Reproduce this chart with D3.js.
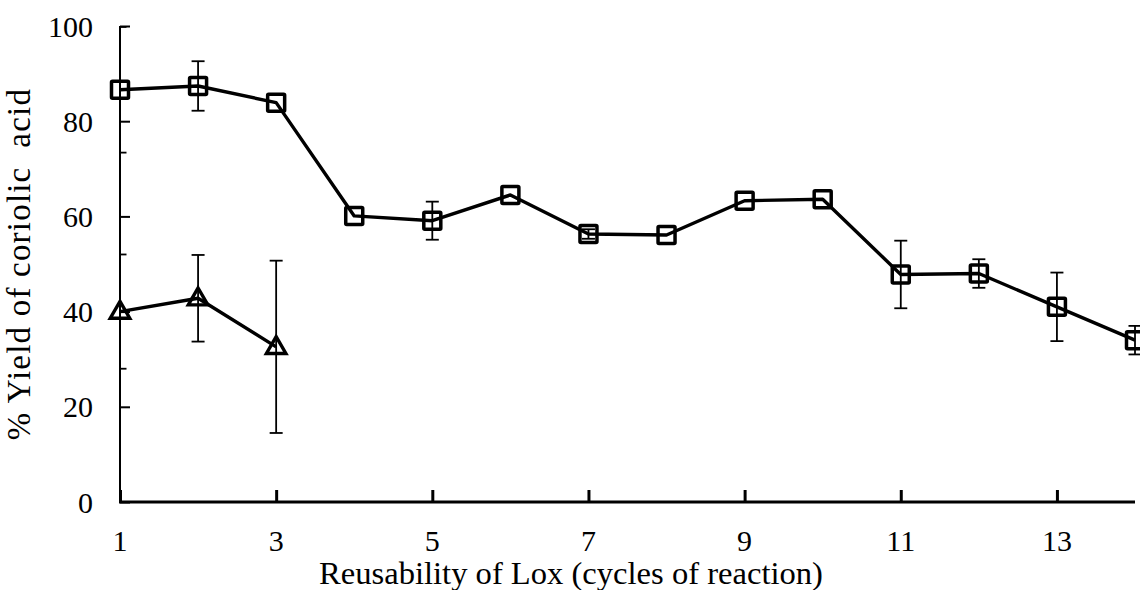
<!DOCTYPE html>
<html>
<head>
<meta charset="utf-8">
<script src="https://cdn.jsdelivr.net/npm/d3@7"></script>
<style>
  html, body { margin: 0; padding: 0; background: #fff; }
  svg { display: block; font-family: "Liberation Serif", "Times New Roman", serif; }
</style>
</head>
<body>
<svg id="chart" width="1140" height="590"></svg>
<script>
// Reuse cycles of the immobilised lipoxygenase
const cycles = [1, 2, 3, 4, 5, 6, 7, 8, 9, 10, 11, 12, 13, 14];

// Series drawn with square markers
const squareYield = [86.6, 87.4, 83.9, 60.1, 59.1, 64.5, 56.3, 56.1, 63.3, 63.6, 47.8, 48.0, 41.0, 34.0];
const squareErr   = [13.2, 5.2, 0, 0, 4.0, 0, 1.0, 0, 0, 0, 7.1, 3.0, 7.2, 3.0];

// Series drawn with triangle markers (first three cycles only)
const triangleCycles = [1, 2, 3];
const triangleYield  = [40.0, 42.8, 32.6];
const triangleErr    = [12.0, 9.1, 18.1];

const xTickValues = [1, 3, 5, 7, 9, 11, 13];
const yTickValues = [0, 20, 40, 60, 80, 100];

const xTitle = "Reusability of Lox (cycles of reaction)";
const yTitle = "% Yield of coriolic  acid";

const svg = d3.select("#chart");
const plotL = 120, plotR = 1135, plotT = 26, plotB = 502;

const x = d3.scaleLinear().domain([1, 14]).range([plotL, plotR]);
const y = d3.scaleLinear().domain([0, 100]).range([plotB, plotT]);

// Clip region for error bars (plot area)
svg.append("defs").append("clipPath").attr("id", "plotClip")
  .append("rect").attr("x", plotL).attr("y", 0).attr("width", plotR - plotL + 20).attr("height", plotB + 1);

// Y axis: ticks pointing into the plot
const yAxis = svg.append("g").attr("transform", `translate(${plotL},0)`)
  .call(d3.axisRight(y).tickValues(yTickValues).tickSize(10).tickFormat(""));
yAxis.select(".domain").attr("d", `M0,${plotT}V${plotB}`).attr("stroke", "#000").attr("stroke-width", 2);
yAxis.selectAll(".tick line").attr("stroke", "#000").attr("stroke-width", 2);

// Y tick labels
svg.append("g").selectAll("text").data(yTickValues).join("text")
  .attr("x", 93).attr("y", d => y(d)).attr("dy", "0.35em")
  .attr("text-anchor", "end").attr("font-size", 30).attr("fill", "#000")
  .text(d => d);

// X axis
const xAxis = svg.append("g").attr("transform", `translate(0,${plotB})`)
  .call(d3.axisTop(x).tickValues(xTickValues).tickSize(11).tickFormat(""));
xAxis.select(".domain").attr("d", `M${plotL - 1},0H${plotR}`).attr("stroke", "#000").attr("stroke-width", 3);
xAxis.selectAll(".tick line").attr("stroke", "#000").attr("stroke-width", 3).attr("y2", -12).attr("y1", 1);

svg.append("g").selectAll("text").data(xTickValues).join("text")
  .attr("x", d => x(d)).attr("y", 551)
  .attr("text-anchor", "middle").attr("font-size", 30).attr("fill", "#000")
  .text(d => d);

// Axis titles
svg.append("text").attr("x", 571).attr("y", 584).attr("text-anchor", "middle")
  .attr("font-size", 32.6).attr("fill", "#000").text(xTitle);
svg.append("text").attr("transform", `translate(30,${(plotT + plotB) / 2}) rotate(-90)`)
  .attr("text-anchor", "middle").attr("font-size", 33).attr("letter-spacing", 1.2).attr("fill", "#000")
  .style("white-space", "pre").text(yTitle);

// Error bars
function drawErrors(xs, ys, es) {
  const g = svg.append("g").attr("clip-path", "url(#plotClip)")
    .attr("stroke", "#000").attr("stroke-width", 1.8).attr("fill", "none");
  const capW = 6.5;
  xs.forEach((c, i) => {
    const e = es[i];
    if (!e) return;
    const cx = x(c), y1 = y(ys[i] + e), y2 = y(ys[i] - e);
    g.append("line").attr("x1", cx).attr("x2", cx).attr("y1", y1).attr("y2", y2);
    g.append("line").attr("x1", cx - capW).attr("x2", cx + capW).attr("y1", y1).attr("y2", y1);
    g.append("line").attr("x1", cx - capW).attr("x2", cx + capW).attr("y1", y2).attr("y2", y2);
  });
}
drawErrors(cycles, squareYield, squareErr);
drawErrors(triangleCycles, triangleYield, triangleErr);

// Lines
const line = d3.line().x(d => x(d[0])).y(d => y(d[1]));
svg.append("path").datum(cycles.map((c, i) => [c, squareYield[i]]))
  .attr("d", line).attr("fill", "none").attr("stroke", "#000").attr("stroke-width", 3.4)
  .attr("stroke-linejoin", "round");
svg.append("path").datum(triangleCycles.map((c, i) => [c, triangleYield[i]]))
  .attr("d", line).attr("fill", "none").attr("stroke", "#000").attr("stroke-width", 3.4)
  .attr("stroke-linejoin", "round");

// Markers (hollow)
svg.append("g").selectAll("rect").data(cycles).join("rect")
  .attr("x", (d) => x(d) - 8.5).attr("y", (d, i) => y(squareYield[i]) - 8.5)
  .attr("width", 17).attr("height", 17)
  .attr("fill", "none").attr("stroke", "#000").attr("stroke-width", 3.5).attr("rx", 1);

const tri = d3.symbol().type(d3.symbolTriangle).size(165);
svg.append("g").selectAll("path").data(triangleCycles).join("path")
  .attr("transform", (d, i) => `translate(${x(d)},${y(triangleYield[i]) + 1})`)
  .attr("d", tri).attr("fill", "none").attr("stroke", "#000").attr("stroke-width", 3.4)
  .attr("stroke-linejoin", "miter");
</script>
</body>
</html>
